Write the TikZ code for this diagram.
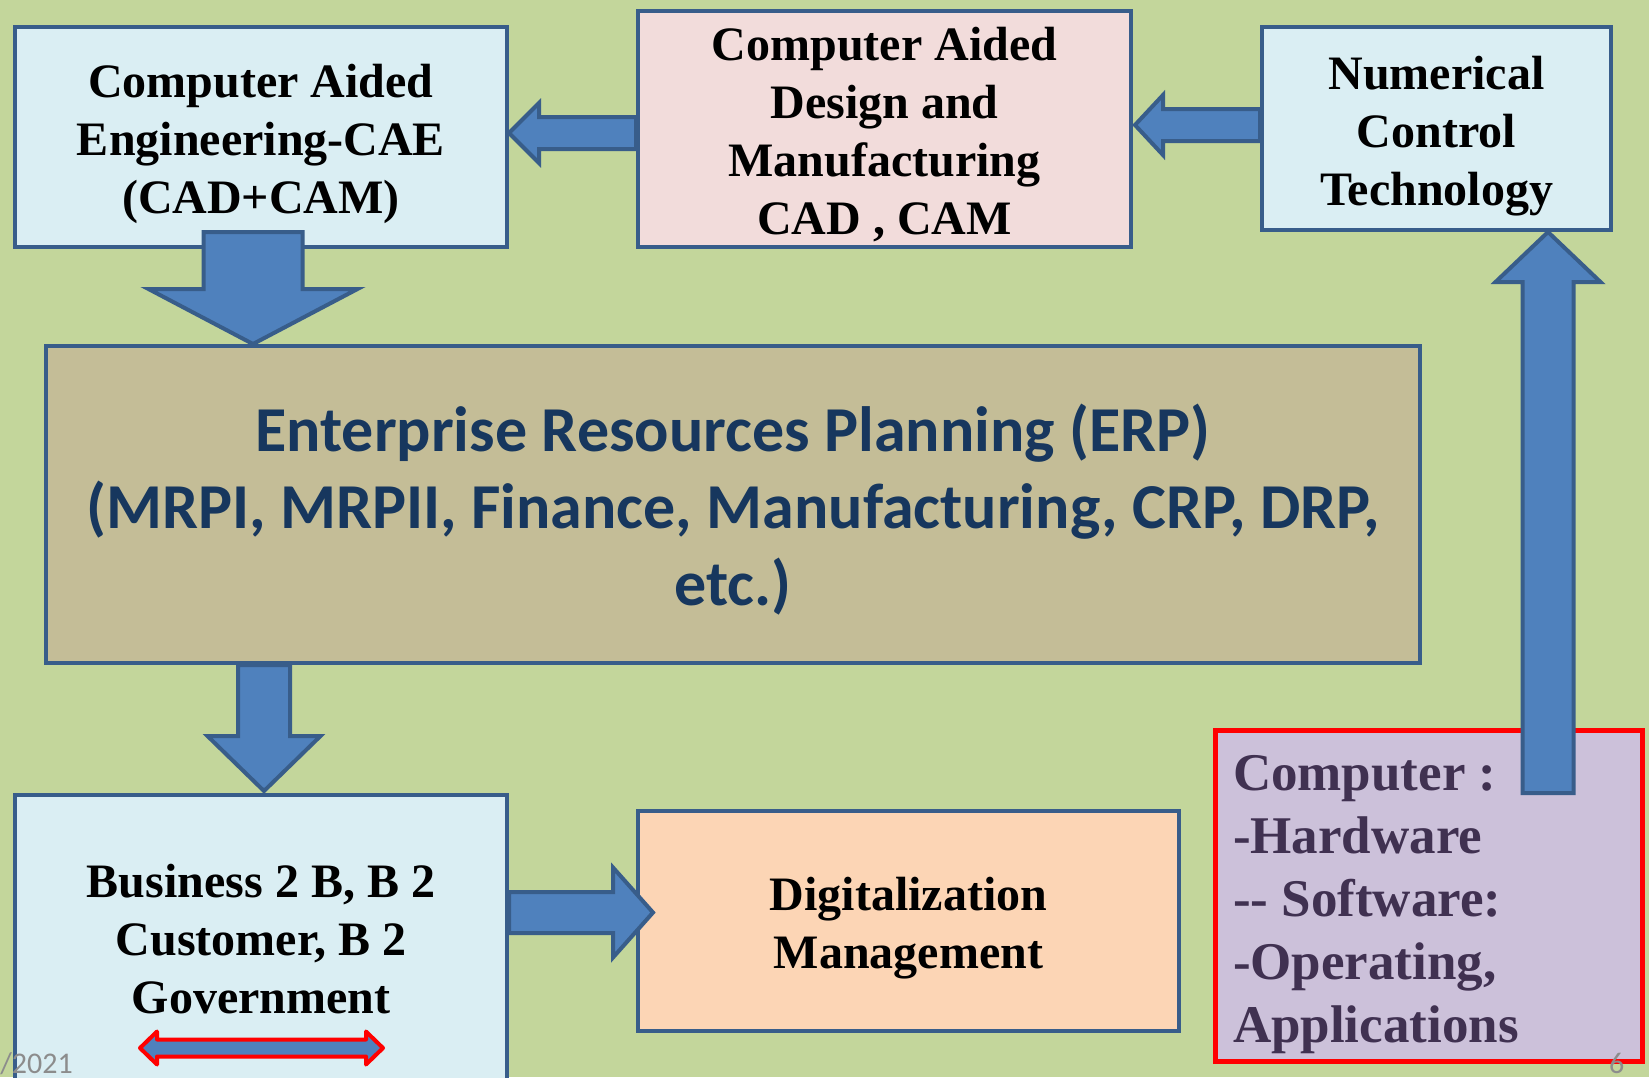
\documentclass[tikz,border=0pt]{standalone}
\usepackage{fontspec}
\setmainfont{Liberation Serif}
\newfontfamily\erpfont{Carlito}
\usetikzlibrary{calc}

\definecolor{slidebg}{HTML}{C3D69B}
\definecolor{boxline}{HTML}{385D8A}
\definecolor{arrowfill}{HTML}{4F81BD}
\definecolor{paleblue}{HTML}{DAEEF3}
\definecolor{palepink}{HTML}{F2DCDB}
\definecolor{erptan}{HTML}{C4BD97}
\definecolor{peach}{HTML}{FCD5B5}
\definecolor{lilac}{HTML}{CCC1DA}
\definecolor{erptext}{HTML}{17375E}
\definecolor{comptext}{HTML}{403151}
\definecolor{footgray}{HTML}{8C8C8C}

\tikzset{
  box/.style={draw=boxline, line width=4pt, rectangle, align=flush center, inner sep=0pt,
    font=\bfseries\fontsize{48}{58}\selectfont},
  textdrop/.style={execute at begin node={\rule{0pt}{#1}}},
  blockarrow/.style={draw=boxline, fill=arrowfill, line width=4pt},
  dblarrow/.style={draw=red, fill=arrowfill, line width=4pt, line join=round},
  footer/.style={font=\erpfont\fontsize{30}{36}\selectfont, text=footgray, inner sep=0pt}
}

% fat arrows: start, tip, shaft half width, head half width, head length
\newcommand{\harrow}[5]{%
  \draw[blockarrow] let \p1=(#1), \p2=(#2), \n1={sign(\x2-\x1)*(#5)} in
    (\x1,{\y2+(#3)}) -- ({\x2-(\n1)},{\y2+(#3)}) -- ({\x2-(\n1)},{\y2+(#4)}) -- (\x2,\y2)
    -- ({\x2-(\n1)},{\y2-(#4)}) -- ({\x2-(\n1)},{\y2-(#3)}) -- (\x1,{\y2-(#3)}) -- cycle;}
\newcommand{\varrow}[5]{%
  \draw[blockarrow] let \p1=(#1), \p2=(#2), \n1={sign(\y2-\y1)*(#5)} in
    ({\x2+(#3)},\y1) -- ({\x2+(#3)},{\y2-(\n1)}) -- ({\x2+(#4)},{\y2-(\n1)}) -- (\x2,\y2)
    -- ({\x2-(#4)},{\y2-(\n1)}) -- ({\x2-(#3)},{\y2-(\n1)}) -- ({\x2-(#3)},\y1) -- cycle;}

\begin{document}
\begin{tikzpicture}[x=1pt, y=-1pt]
\useasboundingbox[fill=slidebg] (0,0) rectangle (1649,1077);

% boxes
\node[box, textdrop=47pt, text width=470, fill=paleblue, minimum width=492, minimum height=220] (cae) at (261,137)
  {Computer Aided\\Engineering-CAE\\(CAD+CAM)};
\node[box, textdrop=45pt, text width=470, fill=palepink, minimum width=493, minimum height=236] (cad) at (884.5,129)
  {Computer Aided\\Design and\\Manufacturing\\CAD , CAM};
\node[box, textdrop=49pt, text width=330, fill=paleblue, minimum width=349, minimum height=203] (nc) at (1436.5,128.5)
  {Numerical\\Control\\Technology};
\node[box, textdrop=58pt, text width=1350, fill=erptan, minimum width=1374, minimum height=317, text=erptext,
  font=\erpfont\bfseries\fontsize{64}{77}\selectfont] (erp) at (733,504.5)
  {Enterprise Resources Planning (ERP)\\(MRPI, MRPII, Finance, Manufacturing, CRP, DRP,\\etc.)};
\node[box, fill=paleblue, minimum width=492, minimum height=288] (b2b) at (261,939)
  {Business 2 B, B 2\\Customer, B 2\\Government};
\node[box, textdrop=47pt, text width=520, fill=peach, minimum width=541, minimum height=220] (dig) at (908.5,921)
  {Digitalization\\Management};
\node[box, textdrop=52pt, draw=red, line width=5pt, fill=lilac, minimum width=427, minimum height=331,
  align=flush left, text width=392, text=comptext,
  font=\bfseries\fontsize{53}{63}\selectfont] (comp) at (1429,896)
  {Computer :\\-Hardware\\-{}- Software:\\-Operating,\\Applications};

% arrows
\harrow{cad.west}{$(cae.east)+(0,-4)$}{16}{30}{30}
\harrow{nc.west}{$(cad.east)+(2,-4)$}{16}{30}{28}
\varrow{$(cae.south)+(0,-17)$}{$(cae.south |- erp.north)+(-8,0)$}{49.5}{104.5}{55}
\varrow{b2b.north |- erp.south}{$(b2b.north)+(3,-2)$}{26}{56.5}{55}
\harrow{b2b.east}{$(dig.west)+(17,-8.5)$}{20.5}{45}{40}
\varrow{$(comp.north)+(0,65)$}{$(nc.south)+(111.5,0)$}{25.5}{52.5}{50}

\draw[dblarrow] let \p1=($(b2b.center)+(-121,109)$), \p2=($(b2b.center)+(122,109)$) in
  (\p1) -- ({\x1+17},{\y1+16.5}) -- ({\x1+17},{\y1+8.5}) -- ({\x2-17},{\y1+8.5})
  -- ({\x2-17},{\y1+16.5}) -- (\p2) -- ({\x2-17},{\y1-16.5}) -- ({\x2-17},{\y1-8.5})
  -- ({\x1+17},{\y1-8.5}) -- ({\x1+17},{\y1-16.5}) -- cycle;

% footer
\node[footer, anchor=base east] (date) at (73,1073) {/2021};
\node[footer, anchor=base west] (page) at (1609,1073) {6};
\end{tikzpicture}
\end{document}
